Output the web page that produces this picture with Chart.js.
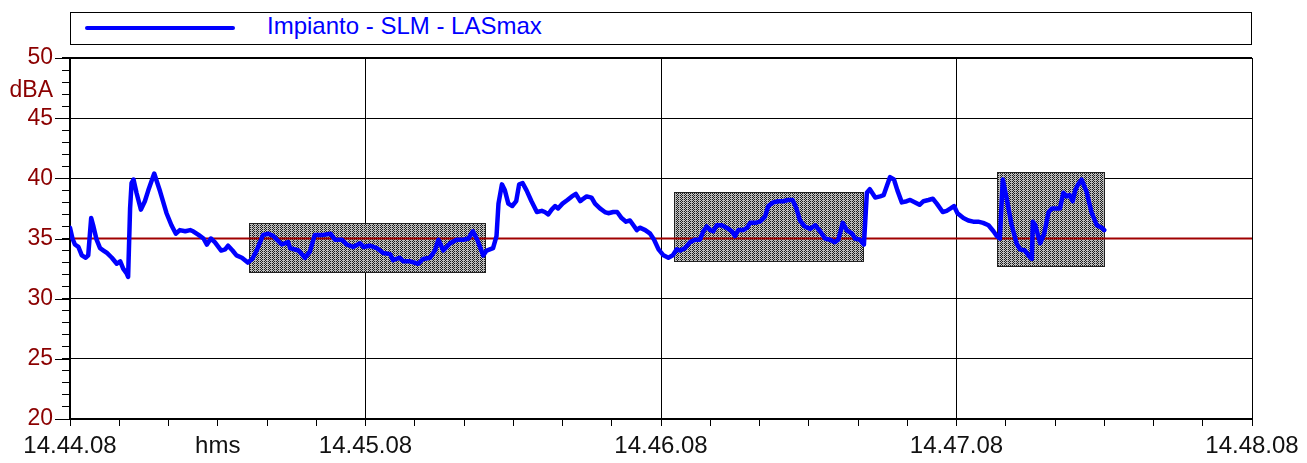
<!DOCTYPE html>
<html>
<head>
<meta charset="utf-8">
<script src="https://cdn.jsdelivr.net/npm/chart.js@4.4.1/dist/chart.umd.min.js"></script>
<style>
  body { margin: 0; background: #fff; }
  #wrap { position: relative; width: 1307px; height: 463px; }
  #legend {
    position: absolute; left: 70px; top: 12px; width: 1182px; height: 33px;
    box-sizing: border-box; border: 1px solid #000; background: #fff;
    font: 24px "Liberation Sans", Arial, sans-serif; color: #0000ff;
  }
  #legend .swatch {
    position: absolute; left: 14px; top: 13px; width: 150px; height: 4px;
    background: #0000ff; border-radius: 2px;
  }
  #legend .name { position: absolute; left: 196px; top: -1px; line-height: 28px; white-space: nowrap; }
</style>
</head>
<body>
<div id="wrap">
  <canvas id="chart" width="1307" height="463"></canvas>
  <div id="legend"><span class="swatch"></span><span class="name">Impianto - SLM - LASmax</span></div>
</div>
<script>
// seconds from 14.44.08
const times = [
  0, 0.5, 1.0, 1.7, 2.4, 3.2, 3.7, 4.3, 4.7, 5.4,
  6.1, 6.8, 7.5, 8.5, 9.5, 10.2, 10.8, 11.5, 11.8, 12.2,
  12.5, 12.9, 13.5, 14.4, 15.2, 15.9, 17.1, 18.3, 19.6, 20.6,
  21.5, 22.3, 23.4, 24.4, 25.0, 26.1, 27.1, 27.8, 28.6, 29.4,
  30.7, 31.5, 32.1, 33.0, 33.8, 34.9, 36.1, 37.0, 37.9, 39.2,
  40.3, 41.3, 43.0, 44.3, 44.7, 46.4, 47.7, 48.7, 49.7, 51.4,
  52.9, 53.8, 55.2, 56.2, 57.5, 58.9, 59.6, 60.9, 62.3, 63.6,
  65.0, 65.6, 66.9, 67.7, 69.0, 70.7, 71.7, 73.1, 74.1, 74.8,
  75.8, 77.2, 78.5, 79.9, 80.9, 81.8, 82.7, 83.9, 84.6, 85.9,
  86.6, 87.0, 87.7, 88.3, 89.0, 89.8, 90.6, 91.2, 91.9, 92.7,
  93.7, 94.8, 95.8, 96.4, 97.1, 97.8, 98.5, 99.1, 100.0, 101.0,
  101.9, 102.7, 103.6, 104.2, 104.9, 105.9, 106.6, 107.6, 108.6, 109.3,
  110.3, 111.1, 112.0, 112.9, 113.7, 114.4, 115.1, 115.7, 116.8, 117.8,
  118.6, 119.5, 120.5, 121.5, 122.4, 123.2, 123.9, 124.9, 125.9, 126.9,
  127.9, 128.6, 129.3, 130.0, 130.6, 131.3, 132.3, 133.3, 134.4, 135.0,
  135.7, 136.7, 137.5, 138.1, 139.1, 140.1, 141.1, 141.8, 142.8, 143.8,
  144.8, 145.8, 146.7, 147.5, 148.2, 149.2, 150.3, 151.3, 152.3, 153.3,
  154.3, 155.3, 156.0, 156.9, 157.7, 158.8, 159.4, 160.4, 161.2, 161.8,
  162.4, 163.5, 164.5, 165.2, 165.8, 166.5, 167.3, 168.0, 168.9, 169.9,
  170.6, 171.6, 172.5, 173.3, 174.3, 175.2, 176.0, 177.2, 178.0, 178.8,
  179.5, 180.2, 181.4, 182.4, 183.4, 184.4, 185.4, 186.5, 187.5, 188.2,
  188.8, 189.4, 190.2, 191.2, 192.2, 192.9, 193.9, 194.6, 195.3, 195.5,
  196.0, 197.0, 197.8, 198.7, 199.4, 201.0, 201.7, 202.4, 203.0, 203.6,
  204.1, 204.7, 205.4, 206.4, 207.4, 208.5, 209.5, 210.0
];

// LASmax, dBA
const levels = [
  35.9, 35.0, 34.5, 34.3, 33.6, 33.4, 33.6, 36.7, 36.1, 34.9,
  34.2, 34.0, 33.8, 33.4, 32.9, 33.1, 32.5, 32.1, 31.8, 37.5,
  39.6, 39.9, 38.8, 37.4, 38.1, 39.0, 40.4, 38.9, 37.1, 36.1,
  35.4, 35.7, 35.6, 35.7, 35.6, 35.3, 35.0, 34.5, 35.0, 34.7,
  34.0, 34.1, 34.4, 34.0, 33.6, 33.4, 33.0, 33.3, 34.0, 35.3,
  35.4, 35.2, 34.5, 34.7, 34.2, 34.0, 33.4, 33.9, 35.3, 35.3,
  35.4, 34.9, 34.9, 34.5, 34.3, 34.6, 34.3, 34.4, 34.2, 33.8,
  33.7, 33.2, 33.4, 33.1, 33.1, 32.9, 33.3, 33.4, 34.0, 34.9,
  34.0, 34.6, 34.9, 34.9, 35.0, 35.6, 34.9, 33.6, 34.0, 34.2,
  35.2, 37.9, 39.5, 39.0, 37.9, 37.7, 38.1, 39.5, 39.6, 39.0,
  38.1, 37.2, 37.3, 37.2, 37.0, 37.4, 37.7, 37.5, 37.9, 38.2,
  38.5, 38.7, 38.1, 38.3, 38.5, 38.4, 37.9, 37.5, 37.2, 37.1,
  37.2, 37.2, 36.7, 36.4, 36.5, 36.1, 35.7, 35.9, 35.7, 35.4,
  34.9, 34.1, 33.6, 33.4, 33.6, 34.1, 34.0, 34.2, 34.7, 34.9,
  34.9, 35.6, 36.0, 35.7, 35.6, 36.1, 36.1, 35.9, 35.6, 35.2,
  35.7, 35.7, 35.9, 36.3, 36.3, 36.4, 36.8, 37.7, 38.0, 38.1,
  38.1, 38.2, 38.2, 37.5, 36.5, 36.0, 35.8, 36.1, 35.6, 35.0,
  34.9, 34.7, 34.9, 36.3, 35.7, 35.4, 35.0, 34.9, 34.5, 38.8,
  39.1, 38.4, 38.5, 38.6, 39.3, 40.1, 39.9, 39.0, 38.0, 38.1,
  38.2, 38.0, 37.8, 38.1, 38.2, 38.3, 37.9, 37.2, 37.3, 37.5,
  37.7, 37.1, 36.7, 36.5, 36.4, 36.4, 36.3, 36.1, 35.6, 35.2,
  35.0, 39.9, 38.3, 36.1, 34.6, 34.1, 34.0, 33.6, 33.3, 36.4,
  36.1, 34.6, 35.4, 37.2, 37.5, 37.5, 38.8, 38.5, 38.6, 38.1,
  39.0, 39.5, 39.9, 38.9, 37.2, 36.1, 35.9, 35.7
];

const limitLevel = 35;

// masked periods: start/end in seconds, level range in dBA
const maskStart = [36.3, 122.7, 188.2];
const maskEnd = [84.3, 161.1, 210.0];
const maskHigh = [36.3, 38.9, 40.5];
const maskLow = [32.2, 33.1, 32.7];

const timeLabels = ["14.44.08", "14.45.08", "14.46.08", "14.47.08", "14.48.08"];
const timeUnit = "hms";
const levelUnit = "dBA";

Chart.defaults.font.family = "'Liberation Sans', Arial, sans-serif";

const darkRed = "#8b0000";

function checkerPattern(ctx) {
  const c = document.createElement("canvas");
  c.width = 4;
  c.height = 2;
  const g = c.getContext("2d");
  for (let i = 0; i < 4; i++) {
    for (let j = 0; j < 2; j++) {
      g.fillStyle = i === 3 ? "#b4b4b4" : ((i + j) % 2 ? "#1c1c1c" : "#c8c8c8");
      g.fillRect(i, j, 1, 1);
    }
  }
  return ctx.createPattern(c, "repeat");
}

const maskBoxes = {
  id: "maskBoxes",
  beforeDatasetsDraw(chart) {
    const { ctx, scales: { x, y } } = chart;
    ctx.save();
    ctx.fillStyle = checkerPattern(ctx);
    ctx.strokeStyle = "#222";
    ctx.lineWidth = 1;
    maskStart.forEach((s, i) => {
      const l = Math.round(x.getPixelForValue(s));
      const r = Math.round(x.getPixelForValue(maskEnd[i]));
      const t = Math.round(y.getPixelForValue(maskHigh[i]));
      const b = Math.round(y.getPixelForValue(maskLow[i]));
      ctx.fillRect(l, t, r - l, b - t);
      ctx.strokeRect(l + 0.5, t + 0.5, r - l, b - t);
    });
    ctx.restore();
  }
};

const axisExtras = {
  id: "axisExtras",
  afterDraw(chart) {
    const { ctx, chartArea, scales: { y } } = chart;
    ctx.save();
    // longer ticks on the labelled levels
    ctx.strokeStyle = "#000";
    ctx.lineWidth = 1;
    for (let v = 20; v <= 50; v += 5) {
      const py = Math.round(y.getPixelForValue(v)) + 0.5;
      ctx.beginPath();
      ctx.moveTo(chartArea.left - 15, py);
      ctx.lineTo(chartArea.left, py);
      ctx.stroke();
    }
    ctx.fillStyle = darkRed;
    ctx.font = "23px 'Liberation Sans', Arial, sans-serif";
    ctx.textAlign = "right";
    ctx.textBaseline = "middle";
    ctx.fillText(levelUnit, chartArea.left - 17, y.getPixelForValue(47.3));
    ctx.restore();
  }
};

new Chart(document.getElementById("chart"), {
  type: "line",
  data: {
    datasets: [
      {
        label: "Impianto - SLM - LASmax",
        data: times.map((t, i) => ({ x: t, y: levels[i] })),
        borderColor: "#0000ff",
        borderWidth: 4.5,
        pointRadius: 0,
        borderJoinStyle: "round",
        borderCapStyle: "round",
        order: 0
      },
      {
        label: "limit",
        data: [{ x: 0, y: limitLevel }, { x: 240, y: limitLevel }],
        borderColor: "#a00000",
        borderWidth: 2,
        pointRadius: 0,
        order: 1
      }
    ]
  },
  options: {
    responsive: false,
    animation: false,
    layout: { padding: { top: 58, right: 55, left: 0, bottom: 0 } },
    plugins: { legend: { display: false }, tooltip: { enabled: false } },
    scales: {
      x: {
        type: "linear",
        min: 0,
        max: 240,
        afterFit: s => { s.height = 44; },
        border: { color: "#000", width: 2 },
        grid: {
          color: c => (c.tick && c.tick.value % 60 === 0 ? "#000" : "rgba(0,0,0,0)"),
          tickColor: "#000",
          tickLength: 7,
          lineWidth: 1
        },
        ticks: {
          stepSize: 10,
          autoSkip: false,
          maxRotation: 0,
          padding: 6,
          color: "#111",
          font: { size: 24 },
          callback: v => (v % 60 === 0 ? timeLabels[v / 60] : v === 30 ? timeUnit : "")
        }
      },
      y: {
        min: 20,
        max: 50,
        afterFit: s => { s.width = 70; },
        border: { color: "#000", width: 2 },
        grid: {
          color: c => (c.tick && c.tick.value % 5 === 0 ? "#000" : "rgba(0,0,0,0)"),
          lineWidth: c => (c.tick && c.tick.value === 50 ? 2 : 1),
          tickColor: "#000",
          tickLength: 8
        },
        ticks: {
          stepSize: 1,
          autoSkip: false,
          padding: 9,
          color: darkRed,
          font: { size: 23 },
          callback: v => (v % 5 === 0 ? v : "")
        }
      }
    }
  },
  plugins: [maskBoxes, axisExtras]
});
</script>
</body>
</html>
